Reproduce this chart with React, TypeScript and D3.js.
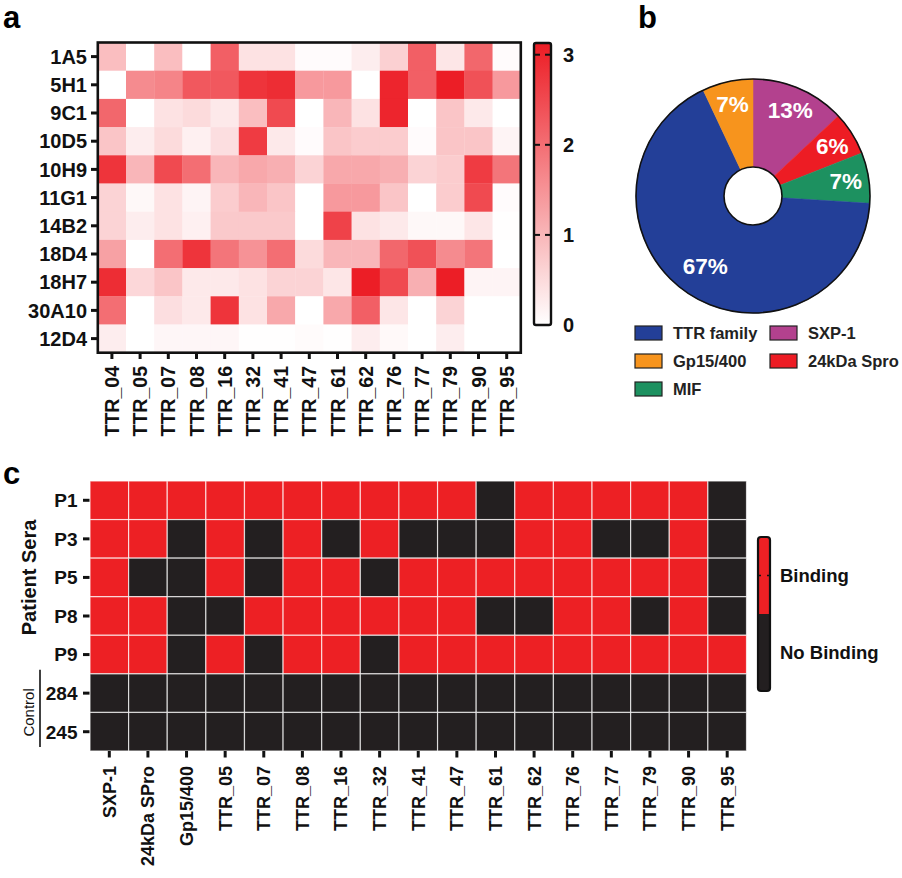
import React from "react";
import * as d3 from "d3";

const FONT = "'Liberation Sans', Arial, Helvetica, sans-serif";

// ---------- Panel a data ----------
const heatRows = ["1A5", "5H1", "9C1", "10D5", "10H9", "11G1", "14B2", "18D4", "18H7", "30A10", "12D4"];
const heatCols = ["TTR_04", "TTR_05", "TTR_07", "TTR_08", "TTR_16", "TTR_32", "TTR_41", "TTR_47", "TTR_61", "TTR_62", "TTR_76", "TTR_77", "TTR_79", "TTR_90", "TTR_95"];
const heatValues = [
  [0.9, 0, 0.9, 0, 2.2, 0.4, 0.4, 0.05, 0.05, 0.25, 0.65, 2.2, 0.35, 2.1, 0.05],
  [0, 1.6, 1.7, 2.3, 2.3, 2.8, 2.9, 1.4, 1.4, 0, 3.0, 2.2, 3.1, 2.4, 1.4],
  [2.1, 0, 0.4, 0.5, 0.3, 0.9, 2.5, 0, 1.0, 0.4, 3.0, 0, 0.8, 0.3, 0],
  [0.8, 0.25, 0.5, 0.2, 0.45, 2.7, 0.3, 0.05, 0.8, 0.7, 0.7, 0.05, 0.8, 0.8, 0.15],
  [2.8, 1.0, 2.5, 2.0, 1.0, 1.2, 1.1, 0.6, 1.2, 1.2, 1.1, 0.6, 0.7, 2.7, 1.9],
  [0.6, 0.1, 0.4, 0.15, 0.7, 1.0, 0.8, 0, 1.4, 1.4, 0.8, 0, 0.7, 2.5, 0.05],
  [0.6, 0.25, 0.4, 0.2, 0.75, 0.75, 0.75, 0, 2.6, 0.4, 0.3, 0.1, 0.1, 0.35, 0.02],
  [1.3, 0, 2.0, 2.8, 1.9, 1.5, 2.0, 0.5, 1.0, 1.0, 2.1, 2.4, 1.6, 1.9, 0],
  [2.9, 0.55, 0.8, 0.3, 0.3, 0.4, 0.6, 0.6, 0.35, 3.1, 2.5, 1.1, 3.1, 0.15, 0.15],
  [2.0, 0, 0.45, 0.3, 2.8, 0.4, 1.2, 0, 1.2, 2.2, 0.35, 0, 0.6, 0, 0],
  [0.25, 0, 0.12, 0.12, 0.12, 0.02, 0.02, 0.06, 0.02, 0.25, 0.08, 0, 0.25, 0, 0],
];
const heatMax = 3.13;
const colorbarTicks = [0, 1, 2, 3];

// ---------- Panel b data ----------
const pieCategories = ["SXP-1", "24kDa Spro", "MIF", "TTR family", "Gp15/400"];
const pieValues = [13, 6, 7, 67, 7];
const pieColors = ["#b3418e", "#ed1c24", "#1d9160", "#233f98", "#f7941d"];
const legendOrder = ["TTR family", "SXP-1", "Gp15/400", "24kDa Spro", "MIF"];

// ---------- Panel c data ----------
const bindRows = ["P1", "P3", "P5", "P8", "P9", "284", "245"];
const bindCols = ["SXP-1", "24kDa SPro", "Gp15/400", "TTR_05", "TTR_07", "TTR_08", "TTR_16", "TTR_32", "TTR_41", "TTR_47", "TTR_61", "TTR_62", "TTR_76", "TTR_77", "TTR_79", "TTR_90", "TTR_95"];
const bindValues = [
  [1, 1, 1, 1, 1, 1, 1, 1, 1, 1, 0, 1, 1, 1, 1, 1, 0],
  [1, 1, 0, 1, 0, 1, 0, 1, 0, 0, 0, 1, 1, 0, 0, 1, 0],
  [1, 0, 0, 1, 0, 1, 1, 0, 1, 1, 1, 1, 1, 1, 1, 1, 0],
  [1, 1, 0, 0, 1, 1, 1, 1, 1, 1, 0, 0, 1, 1, 0, 1, 0],
  [1, 1, 0, 1, 0, 1, 1, 0, 1, 1, 1, 1, 1, 1, 1, 1, 1],
  [0, 0, 0, 0, 0, 0, 0, 0, 0, 0, 0, 0, 0, 0, 0, 0, 0],
  [0, 0, 0, 0, 0, 0, 0, 0, 0, 0, 0, 0, 0, 0, 0, 0, 0],
];
const bindLegend = ["Binding", "No Binding"];
const RED = "#ed2024";
const BLACK = "#231f20";

export default function App() {
  // Panel a scales
  const ax = d3.scaleBand<string>().domain(heatCols).range([97.8, 520.8]);
  const ay = d3.scaleBand<string>().domain(heatRows).range([42.5, 352.7]);
  const heatColor = d3
    .scaleLinear<string>()
    .domain([0, heatMax])
    .range(["#ffffff", "#ec1c24"])
    .clamp(true);
  const cbY = d3.scaleLinear().domain([0, heatMax]).range([325, 43]);
  const cbX0 = 534;
  const cbW = 17;

  // Panel b
  const cx = 753;
  const cy = 196;
  const R = 117;
  const r0 = 29;
  const pie = d3
    .pie<number>()
    .sort(null)
    .value((d) => d)(pieValues);
  const arc = d3.arc<d3.PieArcDatum<number>>().innerRadius(r0).outerRadius(R);
  const legendPos = (i: number) => ({ x: 635 + (i % 2) * 135, y: 326 + Math.floor(i / 2) * 28 });

  // Panel c
  const cxs = d3.scaleBand<string>().domain(bindCols).range([90, 746.5]);
  const cys = d3.scaleBand<string>().domain(bindRows).range([481, 751]);
  const lgTop = 537;
  const lgBot = 691;
  const lgMid = (lgTop + lgBot) / 2;

  return (
    <svg
      width={902}
      height={878}
      style={{ position: "absolute", left: 0, top: 0, background: "#fff" }}
      fontFamily={FONT}
    >
      <defs>
        <linearGradient id="cbgrad" x1="0" y1="1" x2="0" y2="0">
          {d3.range(0, 11).map((i) => (
            <stop key={i} offset={i / 10} stopColor={heatColor((heatMax * i) / 10)} />
          ))}
        </linearGradient>
        <clipPath id="lgclip">
          <rect x={758} y={lgTop} width={12} height={lgBot - lgTop} rx={3} />
        </clipPath>
      </defs>

      {/* Panel labels */}
      <text x={3} y={28} fontSize={31} fontWeight="bold">a</text>
      <text x={638} y={28} fontSize={31} fontWeight="bold">b</text>
      <text x={3} y={484} fontSize={31} fontWeight="bold">c</text>

      {/* ===== Panel a ===== */}
      <g>
        {heatValues.map((row, ri) =>
          row.map((v, ci) => (
            <rect
              key={`${ri}-${ci}`}
              x={ax(heatCols[ci])}
              y={ay(heatRows[ri])}
              width={ax.bandwidth() + 0.3}
              height={ay.bandwidth() + 0.3}
              fill={heatColor(v)}
            />
          ))
        )}
        <rect x={97.8} y={42.5} width={423} height={310.2} fill="none" stroke="#111" strokeWidth={2.6} />
        {heatRows.map((r) => (
          <g key={r}>
            <line x1={91} x2={97.8} y1={ay(r)! + ay.bandwidth() / 2} y2={ay(r)! + ay.bandwidth() / 2} stroke="#111" strokeWidth={3} />
            <text x={87} y={ay(r)! + ay.bandwidth() / 2} dy="0.36em" textAnchor="end" fontSize={20} fontWeight="bold" fill="#111">
              {r}
            </text>
          </g>
        ))}
        {heatCols.map((c) => {
          const x = ax(c)! + ax.bandwidth() / 2;
          return (
            <g key={c}>
              <line x1={x} x2={x} y1={352.7} y2={359} stroke="#111" strokeWidth={3} />
              <text transform={`translate(${x},366) rotate(-90)`} dy="0.36em" textAnchor="end" fontSize={19.5} fontWeight="bold" fill="#111">
                {c}
              </text>
            </g>
          );
        })}
        {/* colour bar */}
        <rect x={cbX0} y={cbY(heatMax)} width={cbW} height={cbY(0) - cbY(heatMax)} fill="url(#cbgrad)" stroke="#111" strokeWidth={2.4} rx={2} />
        {colorbarTicks.map((t) => (
          <g key={t}>
            {t > 0 && (
              <>
                <line x1={cbX0} x2={cbX0 + 6} y1={cbY(t)} y2={cbY(t)} stroke="#111" strokeWidth={2} />
                <line x1={cbX0 + cbW - 6} x2={cbX0 + cbW} y1={cbY(t)} y2={cbY(t)} stroke="#111" strokeWidth={2} />
              </>
            )}
            <text x={563} y={cbY(t)} dy="0.36em" fontSize={20} fontWeight="bold" fill="#111">
              {t}
            </text>
          </g>
        ))}
      </g>

      {/* ===== Panel b ===== */}
      <g transform={`translate(${cx},${cy})`}>
        {pie.map((d, i) => (
          <path key={i} d={arc(d) || ""} fill={pieColors[i]} stroke={pieColors[i]} strokeWidth={0.5} />
        ))}
        <circle r={R} fill="none" stroke="#111" strokeWidth={1.6} />
        <circle r={r0} fill="#fff" stroke="#111" strokeWidth={1.6} />
        {pie.map((d, i) => {
          const lr = d.value > 50 ? 85 : 94;
          const [lx, ly] = d3.arc<d3.PieArcDatum<number>>().innerRadius(lr).outerRadius(lr).centroid(d);
          return (
            <text key={`l${i}`} x={lx} y={ly} dy="0.36em" textAnchor="middle" fontSize={22.5} fontWeight="bold" fill="#fff">
              {`${d.value}%`}
            </text>
          );
        })}
      </g>
      {legendOrder.map((name, i) => {
        const p = legendPos(i);
        const ci = pieCategories.indexOf(name);
        return (
          <g key={name}>
            <rect x={p.x} y={p.y} width={27} height={14} fill={pieColors[ci]} stroke="#222" strokeWidth={1.2} />
            <text x={p.x + 38} y={p.y + 7} dy="0.36em" fontSize={16.5} fontWeight="bold" fill="#222">
              {name}
            </text>
          </g>
        );
      })}

      {/* ===== Panel c ===== */}
      <g>
        {bindValues.map((row, ri) =>
          row.map((v, ci) => (
            <rect
              key={`${ri}-${ci}`}
              x={cxs(bindCols[ci])}
              y={cys(bindRows[ri])}
              width={cxs.bandwidth()}
              height={cys.bandwidth()}
              fill={v ? RED : BLACK}
              stroke="#fff"
              strokeOpacity={0.7}
              strokeWidth={1.2}
            />
          ))
        )}
        {bindRows.map((r) => {
          const y = cys(r)! + cys.bandwidth() / 2;
          return (
            <g key={r}>
              <line x1={83} x2={89.5} y1={y} y2={y} stroke="#111" strokeWidth={3} />
              <text x={77.5} y={y} dy="0.36em" textAnchor="end" fontSize={19} fontWeight="bold" fill="#111">
                {r}
              </text>
            </g>
          );
        })}
        {bindCols.map((c) => {
          const x = cxs(c)! + cxs.bandwidth() / 2;
          return (
            <g key={c}>
              <line x1={x} x2={x} y1={751} y2={757.5} stroke="#111" strokeWidth={3} />
              <text transform={`translate(${x},766) rotate(-90)`} dy="0.36em" textAnchor="end" fontSize={18} fontWeight="bold" fill="#111">
                {c}
              </text>
            </g>
          );
        })}
        <text transform={`translate(29,${(cys("P1")! + cys("P9")! + cys.bandwidth()) / 2}) rotate(-90)`} dy="0.36em" textAnchor="middle" fontSize={20} fontWeight="bold" fill="#111">
          Patient Sera
        </text>
        <text transform={`translate(29,${cys("245")!}) rotate(-90)`} dy="0.36em" textAnchor="middle" fontSize={15} fill="#111">
          Control
        </text>
        <line x1={40} x2={40} y1={cys("284")! - 4} y2={cys("245")! + cys.bandwidth() - 4} stroke="#111" strokeWidth={1.6} />

        {/* legend bar */}
        <g clipPath="url(#lgclip)">
          <rect x={758} y={lgTop} width={12} height={lgMid - lgTop} fill={RED} />
          <rect x={758} y={lgMid} width={12} height={lgBot - lgMid} fill={BLACK} />
        </g>
        <rect x={758} y={lgTop} width={12} height={lgBot - lgTop} rx={3} fill="none" stroke="#111" strokeWidth={2.2} />
        <line x1={758} x2={761} y1={(lgTop + lgMid) / 2} y2={(lgTop + lgMid) / 2} stroke="#111" strokeWidth={1.5} />
        <line x1={767} x2={770} y1={(lgTop + lgMid) / 2} y2={(lgTop + lgMid) / 2} stroke="#111" strokeWidth={1.5} />
        {bindLegend.map((t, i) => (
          <text key={t} x={780} y={i === 0 ? (lgTop + lgMid) / 2 : (lgMid + lgBot) / 2} dy="0.36em" fontSize={18.5} fontWeight="bold" fill="#111">
            {t}
          </text>
        ))}
      </g>
    </svg>
  );
}
